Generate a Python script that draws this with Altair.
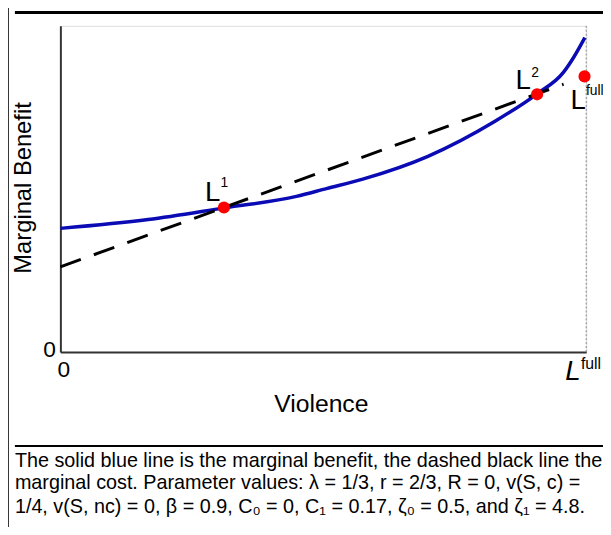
import altair as alt
import pandas as pd

# Marginal benefit (solid blue)
mb_x = [0, 0.167, 0.312, 0.449, 0.506, 0.575, 0.699, 0.825, 0.906, 0.957, 0.976, 0.9975]
mb_y = [0.379, 0.406, 0.442, 0.477, 0.501, 0.530, 0.600, 0.706, 0.791, 0.858, 0.903, 0.964]
# Marginal cost (dashed black)
mc_x = [0, 0.957]
mc_y = [0.261, 0.821]
# Equilibrium points
eq_x = [0.311, 0.9066, 0.9968]
eq_y = [0.443, 0.790, 0.845]
# Point labels "L" with superscripts
lab_x = [0.2895, 0.880, 0.985]
lab_y = [0.4636, 0.806, 0.746]
sup_text = ["1", "2", "full"]
sup_x = [0.3045, 0.8956, 0.9994]
sup_y = [0.506, 0.842, 0.788]
# x-axis end label L^full
axl_x = [0.975]
axl_y = [-0.087]
axs_x = [0.990]
axs_y = [-0.0515]
full_x = [1.0]

caption = [
    "The solid blue line is the marginal benefit, the dashed black line the",
    "marginal cost. Parameter values: λ = 1/3, r = 2/3, R = 0, v(S, c) =",
    "1/4, v(S, nc) = 0, β = 0.9, C₀ = 0, C₁ = 0.17, ζ₀ = 0.5, and ζ₁ = 4.8.",
]

FONT = "Liberation Sans"
xs = alt.Scale(domain=[0, 1], nice=False, zero=False)
ys = alt.Scale(domain=[0, 1], nice=False, zero=False)

mb = pd.DataFrame({"x": mb_x, "y": mb_y})
mc = pd.DataFrame({"x": mc_x, "y": mc_y})
eq = pd.DataFrame({"x": eq_x, "y": eq_y})
lab = pd.DataFrame({"x": lab_x, "y": lab_y, "t": ["L"] * 3})
sup = pd.DataFrame({"x": sup_x, "y": sup_y, "t": sup_text})
axl = pd.DataFrame({"x": axl_x, "y": axl_y, "t": ["L"]})
axs = pd.DataFrame({"x": axs_x, "y": axs_y, "t": ["full"]})
fl = pd.DataFrame({"x": full_x, "y": [0], "y2": [1]})

base_x = alt.X("x:Q", scale=xs,
               axis=alt.Axis(values=[0], title=None, grid=False, ticks=False,
                             domainColor="#333", domainWidth=2, labelExpr="'0'",
                             labelFont=FONT, labelFontSize=23, labelColor="black",
                             labelPadding=7, labelOffset=-3.5))
base_y = alt.Y("y:Q", scale=ys,
               axis=alt.Axis(values=[0], title=None, grid=False, ticks=False,
                             domainColor="#333", domainWidth=2, labelExpr="'0'",
                             labelFont=FONT, labelFontSize=23, labelColor="black",
                             labelPadding=5, labelOffset=-2))

blue = alt.Chart(mb).mark_line(color="#0b0bb5", strokeWidth=3.5, interpolate="monotone").encode(
    x=base_x, y=base_y)
dash = alt.Chart(mc).mark_line(color="black", strokeWidth=3, strokeDash=[22, 14]).encode(
    x=alt.X("x:Q", scale=xs), y=alt.Y("y:Q", scale=ys))
dotted = alt.Chart(fl).mark_rule(color="#888", strokeWidth=1, strokeDash=[2, 2]).encode(
    x=alt.X("x:Q", scale=xs), y=alt.Y("y:Q", scale=ys), y2="y2:Q")
pts = alt.Chart(eq).mark_circle(color="#ff0000", opacity=1, size=150).encode(
    x=alt.X("x:Q", scale=xs), y=alt.Y("y:Q", scale=ys))
labs = alt.Chart(lab).mark_text(font=FONT, fontSize=28, align="center", baseline="alphabetic",
                                color="black").encode(
    x=alt.X("x:Q", scale=xs), y=alt.Y("y:Q", scale=ys), text="t:N")
sups = alt.Chart(sup).mark_text(font=FONT, fontSize=14, align="left", baseline="alphabetic",
                                color="black").encode(
    x=alt.X("x:Q", scale=xs), y=alt.Y("y:Q", scale=ys), text="t:N")
axL = alt.Chart(axl).mark_text(font=FONT, fontSize=28, fontStyle="italic", align="center",
                               baseline="alphabetic", color="black").encode(
    x=alt.X("x:Q", scale=xs), y=alt.Y("y:Q", scale=ys), text="t:N")
axS = alt.Chart(axs).mark_text(font=FONT, fontSize=16, align="left", baseline="alphabetic",
                               color="black").encode(
    x=alt.X("x:Q", scale=xs), y=alt.Y("y:Q", scale=ys), text="t:N")

ytitle = alt.Chart(pd.DataFrame({"t": ["Marginal Benefit"]})).mark_text(
    font=FONT, fontSize=24, angle=270, align="center", baseline="middle", color="black").encode(
    x=alt.value(-37), y=alt.value(164), text="t:N")
xtitle = alt.Chart(pd.DataFrame({"t": ["Violence"]})).mark_text(
    font=FONT, fontSize=25, align="center", baseline="alphabetic", color="black").encode(
    x=alt.value(264), y=alt.value(391), text="t:N")

caps = []
for i, line in enumerate(caption):
    caps.append(alt.Chart(pd.DataFrame({"t": [line]})).mark_text(
        font=FONT, fontSize=20, align="left", baseline="alphabetic", color="black").encode(
        x=alt.value(-46), y=alt.value([446, 469, 493][i]), text="t:N"))

top_line = alt.Chart(pd.DataFrame({"a": [0]})).mark_rule(color="black", strokeWidth=3).encode(
    x=alt.value(-46), x2=alt.value(560), y=alt.value(-13.5))
sep_line = alt.Chart(pd.DataFrame({"a": [0]})).mark_rule(color="black", strokeWidth=2).encode(
    x=alt.value(-46), x2=alt.value(560), y=alt.value(425))
left_line = alt.Chart(pd.DataFrame({"a": [0]})).mark_rule(color="#333", strokeWidth=1).encode(
    x=alt.value(-52.5), y=alt.value(-20), y2=alt.value(510))

chart = alt.layer(
    dotted, blue, dash, pts, labs, sups, axL, axS, ytitle, xtitle, *caps,
    top_line, sep_line, left_line
).properties(
    width=532, height=330,
    autosize=alt.AutoSizeParams(type="none"),
    padding={"left": 53, "top": 15, "right": 17, "bottom": 174},
).configure_view(stroke=None).configure(background="white")

chart.save("out.html", embed_options={"renderer": "svg", "actions": False})
